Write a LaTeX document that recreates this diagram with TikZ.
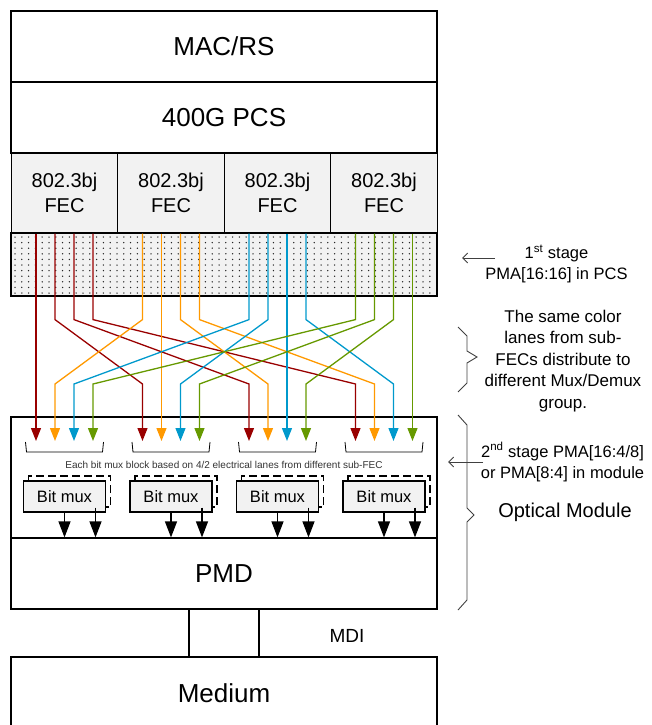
\documentclass[tikz,border=0pt]{standalone}
\usepackage{fontspec}
\setmainfont{Liberation Sans}
\usetikzlibrary{arrows.meta}
\definecolor{laneA}{HTML}{990000}
\definecolor{laneB}{HTML}{FF9900}
\definecolor{laneC}{HTML}{0099CC}
\definecolor{laneD}{HTML}{669900}
\definecolor{boxgray}{HTML}{F2F2F2}

\begin{document}
\begin{tikzpicture}[x=1pt,y=-1pt,
  stackbox/.style={draw,line width=1.2pt,minimum width=426pt,inner sep=0pt,font=\fontsize{26}{30}\selectfont},
  fec/.style={draw,line width=1.2pt,fill=boxgray,minimum width=106.5pt,minimum height=80pt,inner sep=0pt,align=center,font=\fontsize{20}{25}\selectfont},
  lane/.style={line width=1.3pt,-{Triangle[length=13pt,width=10pt]}},
  mux/.style={draw,line width=1.2pt,fill=boxgray,minimum width=82pt,minimum height=31pt,inner sep=0pt,font=\fontsize{16.5}{20}\selectfont},
  muxback/.style={draw,line width=1.2pt,dash pattern=on 8pt off 4pt,minimum width=82pt,minimum height=31pt,inner sep=0pt},
  muxarrow/.style={line width=1.2pt,-{Triangle[length=16pt,width=12pt]}},
  note/.style={align=center,font=\fontsize{16.5}{21}\selectfont},
  annot/.style={line width=0.9pt,black!75}]
\useasboundingbox (0,0) rectangle (652,725);

\node[stackbox,minimum height=71pt] (mac) at (224,46.5) {MAC/RS};
\node[stackbox,minimum height=71pt] (pcs) at (224,117.5) {400G PCS};
\foreach \i in {1,...,4}
  \node[fec] (fec\i) at ({106.5*\i-42},193) {802.3bj\\FEC};
\node[stackbox,fill=boxgray,minimum height=63pt] (pma) at (224,264.5) {};
\foreach \c in {0,...,61}
  \foreach \r in {0,...,10}
    \fill[black!85] ({15+6.8*\c},{237+5.6*\r}) circle (0.75pt);

\node[stackbox,line width=1.8pt,minimum height=121pt] (om) at (224,477.5) {};
\node[stackbox,minimum height=71pt] (pmd) at (224,573.5) {PMD};
\node[stackbox,minimum height=72pt] (medium) at (224,693) {Medium};

\coordinate (tipline) at (0,441);
\foreach \i in {1,...,4}
  \coordinate (grp\i) at (fec\i |- tipline);

\foreach \i/\c in {1/laneA,2/laneB,3/laneC,4/laneD}
  \foreach \j in {1,...,4}{
    \ifnum\i=\j
      \draw[lane,\c] ([xshift=19*\j-47.5]fec\i.south) -- ([xshift=19*\i-47.5]grp\j);
    \else
      \draw[lane,\c] ([xshift=19*\j-47.5]fec\i.south) -- ++(0,86)
        -- ([xshift=19*\i-47.5,yshift=57]grp\j) -- ([xshift=19*\i-47.5]grp\j);
    \fi
  }

\foreach \i in {1,...,4}
  \draw[line width=0.8pt] ([xshift=-39,yshift=-1]grp\i) -- ([xshift=-38,yshift=-11]grp\i)
    -- ([xshift=38,yshift=-11]grp\i) -- ([xshift=39,yshift=-1]grp\i);
\node[font=\fontsize{10}{12}\selectfont,black!80] (muxnote) at (224,465)
  {Each bit mux block based on 4/2 electrical lanes from different sub-FEC};

\foreach \i in {1,...,4}{
  \node[muxback] (muxb\i) at ([xshift=5,yshift=-50.5]grp\i) {};
  \node[mux] (mux\i) at ([yshift=-55.5]grp\i) {Bit mux};
  \coordinate (mo\i) at ([xshift=26]muxb\i.south);
  \draw[muxarrow] (mux\i.south) -- (mux\i.south |- pmd.north);
  \draw[muxarrow] (mo\i) -- (mo\i |- pmd.north);
}

\draw[line width=1.2pt] ([xshift=-35]pmd.south) -- ([xshift=-35]medium.north);
\draw[line width=1.2pt] ([xshift=35]pmd.south) -- ([xshift=35]medium.north);
\node[font=\fontsize{19}{22}\selectfont] (mdi) at (347,636) {MDI};

\node[note] (stage1) at (556.5,264) {1\textsuperscript{st} stage\\PMA[16:16] in PCS};
\coordinate (a1s) at (495,258);
\coordinate (a1e) at (462,258);
\draw[annot,-{Straight Barb[length=5pt,width=10pt]}] (a1s) -- (a1e);

\node[note,font=\fontsize{17}{21.5}\selectfont] (samecolor) at (563,361)
  {The same color\\lanes from sub-\\FECs distribute to\\different Mux/Demux\\group.};
\draw[annot] (458,327) -- (467,336) -- (467,351) -- (477,357) -- (467,363) -- (467,383) -- (458,392);

\node[note] (stage2) at (562.5,462) {2\textsuperscript{nd} stage PMA[16:4/8]\\or PMA[8:4] in module};
\coordinate (a2s) at (483,462);
\coordinate (a2e) at (448,462);
\draw[annot,-{Straight Barb[length=5pt,width=10pt]}] (a2s) -- (a2e);
\node[font=\fontsize{20}{24}\selectfont] (optmod) at (565,512) {Optical Module};
\draw[annot] (458,415) -- (467,425) -- (467,508) -- (474,515) -- (467,522) -- (467,600) -- (458,610);

\end{tikzpicture}
\end{document}
